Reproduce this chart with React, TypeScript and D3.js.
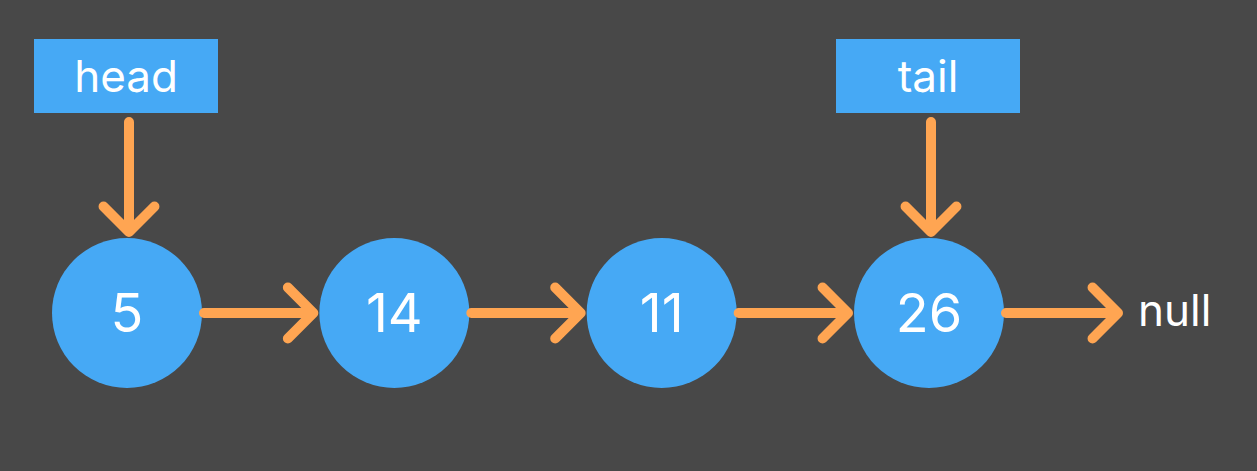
import React from "react";
import * as d3 from "d3";

const nodeValues = ["5", "14", "11", "26"];
const pointers = [{ label: "head", index: 0 }, { label: "tail", index: 3 }];
const terminal = "null";

const W = 1257, H = 471;
const BLUE = "#46A9F5", ORANGE = "#FFA552", BG = "#484848";

export default function App() {
  const x = d3.scaleLinear().domain([0, 3]).range([127, 929]);
  const cy = 313, r = 75;
  const head = 36;
  const arrow = (x1: number, y1: number, x2: number, y2: number, key: string) => {
    const a = Math.atan2(y2 - y1, x2 - x1);
    const p = d3.path();
    p.moveTo(x1, y1); p.lineTo(x2, y2);
    const b1 = a + Math.PI * 0.75, b2 = a - Math.PI * 0.75;
    p.moveTo(x2 + head * Math.cos(b1), y2 + head * Math.sin(b1));
    p.lineTo(x2, y2);
    p.lineTo(x2 + head * Math.cos(b2), y2 + head * Math.sin(b2));
    return <path key={key} d={p.toString()} fill="none" stroke={ORANGE} strokeWidth={10} strokeLinecap="round" strokeLinejoin="round" />;
  };
  return (
    <svg width={W} height={H} style={{ position: "absolute", left: 0, top: 0 }} fontFamily="Inter, sans-serif">
      <rect width={W} height={H} fill={BG} />
      {nodeValues.map((v, i) => (
        <g key={v + i}>
          <circle cx={x(i)} cy={cy} r={r} fill={BLUE} />
          <text x={x(i)} y={cy} dy="0.36em" textAnchor="middle" fill="white" fontSize={54}>{v}</text>
          {i < nodeValues.length - 1
            ? arrow(x(i) + r + 2, cy, x(i + 1) - r - 6, cy, "a" + i)
            : arrow(x(i) + r + 2, cy, x(i) + r + 114, cy, "a" + i)}
        </g>
      ))}
      <text x={1138} y={310} dy="0.36em" fill="white" fontSize={44}>{terminal}</text>
      {pointers.map((p) => {
        const cx = x(p.index);
        return (
          <g key={p.label}>
            <rect x={cx - 93} y={39} width={184} height={74} fill={BLUE} />
            <text x={cx - 1} y={76} dy="0.36em" textAnchor="middle" fill="white" fontSize={44}>{p.label}</text>
            {arrow(cx + 2, 122, cx + 2, cy - r - 6, "p" + p.label)}
          </g>
        );
      })}
    </svg>
  );
}
